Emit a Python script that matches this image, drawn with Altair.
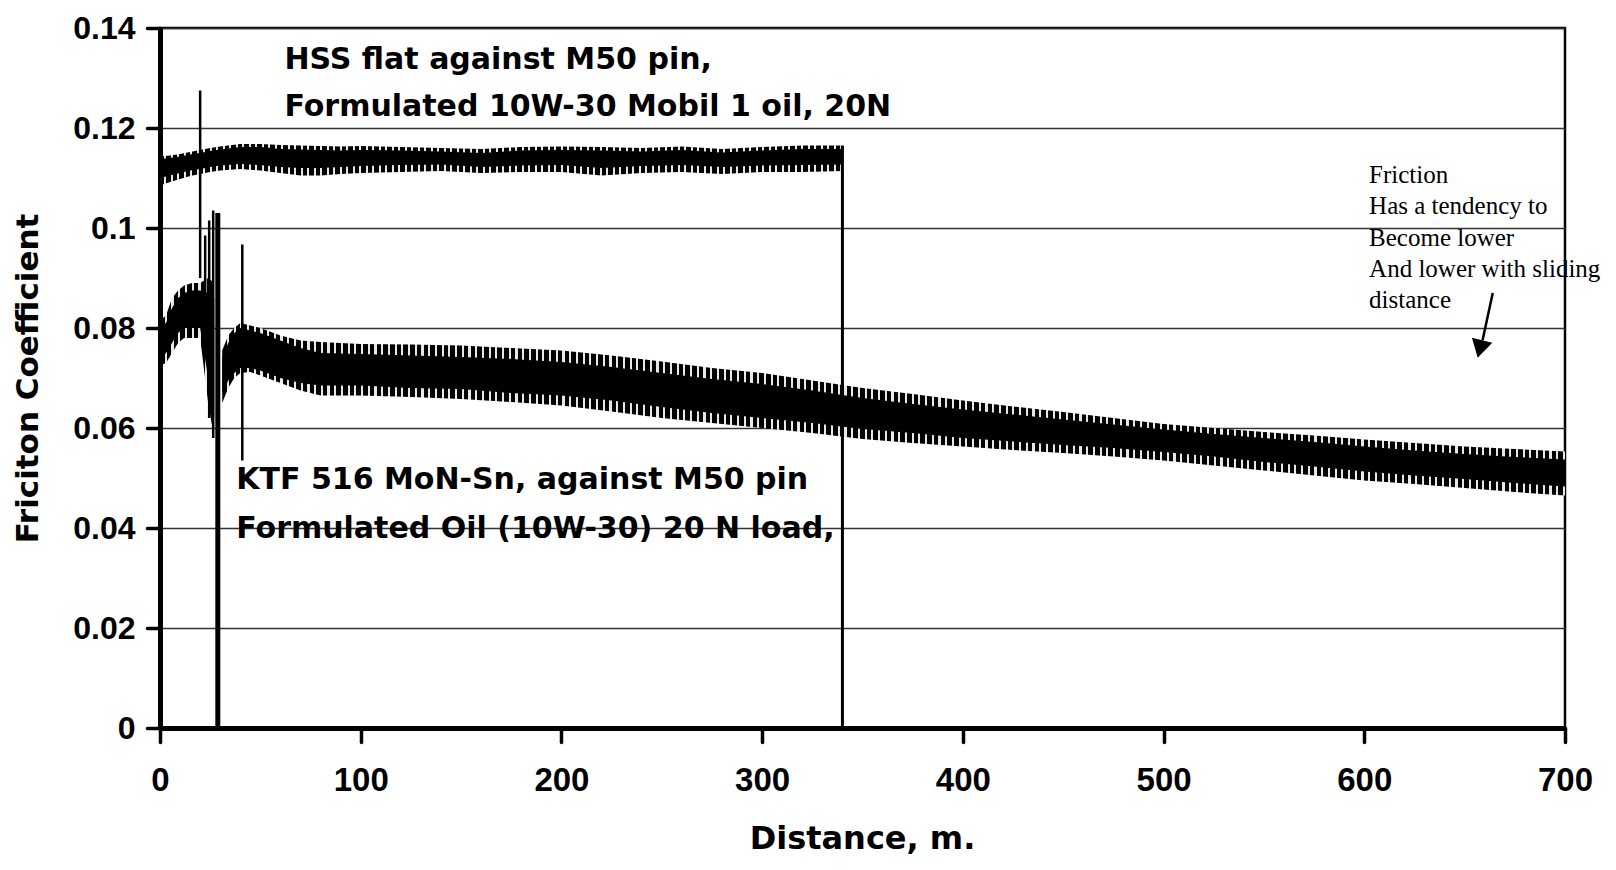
import altair as alt
import pandas as pd

# ---------------- data ----------------
# Upper trace: HSS flat against M50 pin (envelope of the dense oscillation)
hss_x = [0, 5, 10, 15, 20, 25, 30, 40, 50, 60, 70, 80, 90, 100, 120, 140, 160,
         180, 200, 220, 240, 260, 280, 300, 320, 340]
hss_outer_lo = [0.1085, 0.1092, 0.1098, 0.1104, 0.1108, 0.1112, 0.1115, 0.1118, 0.1115,
                0.1110, 0.1105, 0.1105, 0.1108, 0.1110, 0.1112, 0.1114, 0.1110, 0.1112,
                0.1112, 0.1105, 0.1110, 0.1112, 0.1108, 0.1112, 0.1112, 0.1114]
hss_outer_hi = [0.1143, 0.1145, 0.1148, 0.1152, 0.1156, 0.1160, 0.1163, 0.1168, 0.1168,
                0.1166, 0.1165, 0.1164, 0.1163, 0.1164, 0.1162, 0.1160, 0.1158, 0.1162,
                0.1163, 0.1162, 0.1160, 0.1163, 0.1158, 0.1162, 0.1165, 0.1165]
hss_core_lo = [0.1100, 0.1105, 0.1110, 0.1115, 0.1118, 0.1122, 0.1125, 0.1128, 0.1126,
               0.1122, 0.1120, 0.1120, 0.1122, 0.1124, 0.1126, 0.1127, 0.1122, 0.1125,
               0.1126, 0.1120, 0.1124, 0.1126, 0.1122, 0.1125, 0.1126, 0.1127]
hss_core_hi = [0.1138, 0.1140, 0.1143, 0.1147, 0.1150, 0.1154, 0.1157, 0.1162, 0.1162,
               0.1158, 0.1157, 0.1156, 0.1155, 0.1156, 0.1155, 0.1153, 0.1150, 0.1155,
               0.1156, 0.1155, 0.1153, 0.1156, 0.1151, 0.1155, 0.1158, 0.1158]

# Lower trace: KTF 516 MoN-Sn against M50 pin, part before the drop at ~29 m
ktf1_x = [0, 3, 6, 9, 12, 16, 20, 24, 27]
ktf1_outer_lo = [0.0725, 0.0730, 0.0750, 0.0770, 0.0780, 0.0780, 0.0780, 0.0650, 0.0580]
ktf1_outer_hi = [0.0815, 0.0825, 0.0860, 0.0875, 0.0885, 0.0890, 0.0890, 0.0900, 0.0890]
ktf1_core_lo = [0.0740, 0.0750, 0.0770, 0.0790, 0.0800, 0.0800, 0.0800, 0.0700, 0.0620]
ktf1_core_hi = [0.0800, 0.0810, 0.0840, 0.0860, 0.0870, 0.0875, 0.0875, 0.0870, 0.0860]

# ... and after it
ktf2_x = [31, 34, 37, 40, 45, 50, 60, 70, 80, 100, 125, 150, 175, 200, 225, 250,
          275, 300, 325, 350, 375, 400, 425, 450, 475, 500, 525, 550, 575, 600,
          625, 650, 675, 700]
ktf2_outer_lo = [0.0650, 0.0680, 0.0700, 0.0710, 0.0712, 0.0705, 0.0690, 0.0675, 0.0665,
                 0.0665, 0.0662, 0.0658, 0.0652, 0.0645, 0.0633, 0.0620, 0.0610, 0.0600,
                 0.0590, 0.0578, 0.0570, 0.0563, 0.0556, 0.0550, 0.0543, 0.0535, 0.0525,
                 0.0515, 0.0505, 0.0495, 0.0488, 0.0480, 0.0472, 0.0465]
ktf2_outer_hi = [0.0755, 0.0785, 0.0800, 0.0810, 0.0805, 0.0800, 0.0785, 0.0775, 0.0772,
                 0.0768, 0.0767, 0.0765, 0.0760, 0.0755, 0.0745, 0.0733, 0.0720, 0.0710,
                 0.0695, 0.0680, 0.0668, 0.0655, 0.0643, 0.0632, 0.0620, 0.0608, 0.0600,
                 0.0592, 0.0585, 0.0577, 0.0570, 0.0563, 0.0558, 0.0553]
ktf2_core_lo = [0.0670, 0.0695, 0.0710, 0.0720, 0.0720, 0.0715, 0.0700, 0.0690, 0.0685,
                0.0685, 0.0680, 0.0678, 0.0670, 0.0665, 0.0655, 0.0642, 0.0630, 0.0620,
                0.0610, 0.0598, 0.0590, 0.0580, 0.0573, 0.0566, 0.0560, 0.0552, 0.0543,
                0.0532, 0.0523, 0.0513, 0.0505, 0.0498, 0.0490, 0.0483]
ktf2_core_hi = [0.0740, 0.0770, 0.0790, 0.0800, 0.0795, 0.0790, 0.0775, 0.0760, 0.0750,
                0.0748, 0.0745, 0.0742, 0.0738, 0.0732, 0.0722, 0.0710, 0.0698, 0.0688,
                0.0675, 0.0660, 0.0648, 0.0637, 0.0627, 0.0617, 0.0607, 0.0597, 0.0588,
                0.0580, 0.0572, 0.0563, 0.0555, 0.0548, 0.0542, 0.0537]

# vertical spikes / drops
spike_x = [0, 20, 22.5, 24.5, 26.5, 28.8, 41, 340]
spike_lo = [0.0, 0.090, 0.080, 0.062, 0.058, 0.0, 0.0535, 0.0]
spike_hi = [0.1145, 0.1275, 0.0985, 0.1015, 0.1035, 0.1030, 0.0967, 0.1165]
spike_w = [3, 2.5, 2.5, 2.5, 2.5, 5, 2.5, 3]

# annotations
bold_text = ["HSS flat against M50 pin,", "Formulated 10W-30 Mobil 1 oil, 20N",
             "KTF 516 MoN-Sn, against M50 pin", "Formulated Oil (10W-30) 20 N load,"]
bold_x = [62, 62, 38, 38]
bold_y = [0.1336, 0.1242, 0.0496, 0.0399]

serif_text = ["Friction", "Has a tendency to", "Become lower",
              "And lower with sliding", "distance"]
serif_x = [602.4] * 5
serif_y = [0.1106, 0.1044, 0.0980, 0.0918, 0.0856]

arrow_x, arrow_y, arrow_x2, arrow_y2 = [664.0], [0.0870], [658.9], [0.0775]
head_x, head_y = [657.6], [0.0758]

x_ticks = [0, 100, 200, 300, 400, 500, 600, 700]
y_ticks = [0, 0.02, 0.04, 0.06, 0.08, 0.10, 0.12, 0.14]


# ---------------- styling helpers ----------------
def striped(n):
    """Vertical black stripes with thin light gaps (texture of the dense trace)."""
    stops = []
    for i in range(n):
        a, b, c = i / n, (i + 0.68) / n, (i + 1) / n
        stops += [alt.GradientStop(offset=a, color="black"),
                  alt.GradientStop(offset=b, color="black"),
                  alt.GradientStop(offset=b, color="#e8e8e8"),
                  alt.GradientStop(offset=c, color="#e8e8e8")]
    return alt.LinearGradient(gradient="linear", stops=stops, x1=0, x2=1, y1=0, y2=0)


xaxis = alt.Axis(values=x_ticks, title="Distance, m.", titleFont="DejaVu Sans",
                 titleFontSize=32, titleFontWeight="bold", titleColor="black",
                 titleX=702, titleY=110, titleBaseline="middle",
                 labelFont="Liberation Sans", labelFontSize=33, labelFontWeight="bold",
                 labelColor="black", labelPadding=38, labelBaseline="middle",
                 labelFlush=False, labelOverlap=False,
                 tickSize=14, tickWidth=3.5, tickColor="black", tickCap="round",
                 domainColor="black", domainWidth=5, grid=False)
yaxis = alt.Axis(values=y_ticks, format="~g", title="Friciton Coefficient",
                 titleFont="DejaVu Sans", titleFontSize=31, titleFontWeight="bold",
                 titleColor="black", titleX=-132, titleY=350, titleBaseline="middle",
                 titleAlign="center", titleAngle=270,
                 labelFont="Liberation Sans", labelFontSize=32, labelFontWeight="bold",
                 labelColor="black", labelPadding=12, labelFlush=False,
                 tickSize=13, tickWidth=3.5, tickColor="black", tickCap="round",
                 domainColor="black", domainWidth=5,
                 grid=True, gridColor="#333333", gridWidth=1.5)

xs = alt.Scale(domain=[0, 700], nice=False, zero=False)
ys = alt.Scale(domain=[0, 0.14], nice=False)


def X(f="x"):
    return alt.X(f"{f}:Q", scale=xs, axis=xaxis)


def Y(f):
    return alt.Y(f"{f}:Q", scale=ys, axis=yaxis)


def band(xv, olo, ohi, clo, chi, nstripes):
    df = pd.DataFrame({"x": xv, "olo": olo, "ohi": ohi, "clo": clo, "chi": chi})
    outer = alt.Chart(df).mark_area(color=striped(nstripes)).encode(
        x=X(), y=Y("olo"), y2="ohi:Q")
    core = alt.Chart(df).mark_area(color="black").encode(
        x=X(), y=Y("clo"), y2="chi:Q")
    return [outer, core]


layers = []
layers += band(hss_x, hss_outer_lo, hss_outer_hi, hss_core_lo, hss_core_hi, 105)
layers += band(ktf1_x, ktf1_outer_lo, ktf1_outer_hi, ktf1_core_lo, ktf1_core_hi, 8)
layers += band(ktf2_x, ktf2_outer_lo, ktf2_outer_hi, ktf2_core_lo, ktf2_core_hi, 200)

spikes = pd.DataFrame({"x": spike_x, "lo": spike_lo, "hi": spike_hi, "w": spike_w})
btxt = pd.DataFrame({"x": bold_x, "y": bold_y, "t": bold_text})
stxt = pd.DataFrame({"x": serif_x, "y": serif_y, "t": serif_text})
arrow = pd.DataFrame({"x": arrow_x, "y": arrow_y, "x2": arrow_x2, "y2": arrow_y2})
head = pd.DataFrame({"x": head_x, "y": head_y})

layers.append(alt.Chart(spikes).mark_rule(color="black").encode(
    x=X(), y=Y("lo"), y2="hi:Q", strokeWidth=alt.StrokeWidth("w:Q", scale=None)))
layers.append(alt.Chart(btxt).mark_text(
    align="left", baseline="middle", font="DejaVu Sans", fontWeight="bold",
    fontSize=30, color="black").encode(x=X(), y=Y("y"), text="t:N"))
layers.append(alt.Chart(stxt).mark_text(
    align="left", baseline="middle", font="Liberation Serif", fontSize=25,
    color="black").encode(x=X(), y=Y("y"), text="t:N"))
layers.append(alt.Chart(arrow).mark_rule(color="black", strokeWidth=2.5).encode(
    x=X(), y=Y("y"), x2="x2:Q", y2="y2:Q"))
layers.append(alt.Chart(head).mark_point(
    shape="triangle-down", filled=True, color="black", size=440, angle=14,
    opacity=1).encode(x=X(), y=Y("y")))

chart = alt.layer(*layers).properties(
    width=1405, height=700,
    padding={"left": 152, "top": 20, "right": 43, "bottom": 130},
    autosize="none",
    background="white",
).configure_view(stroke="black", strokeWidth=2.5)

chart.save("out.html", embed_options={"renderer": "svg", "actions": False})
